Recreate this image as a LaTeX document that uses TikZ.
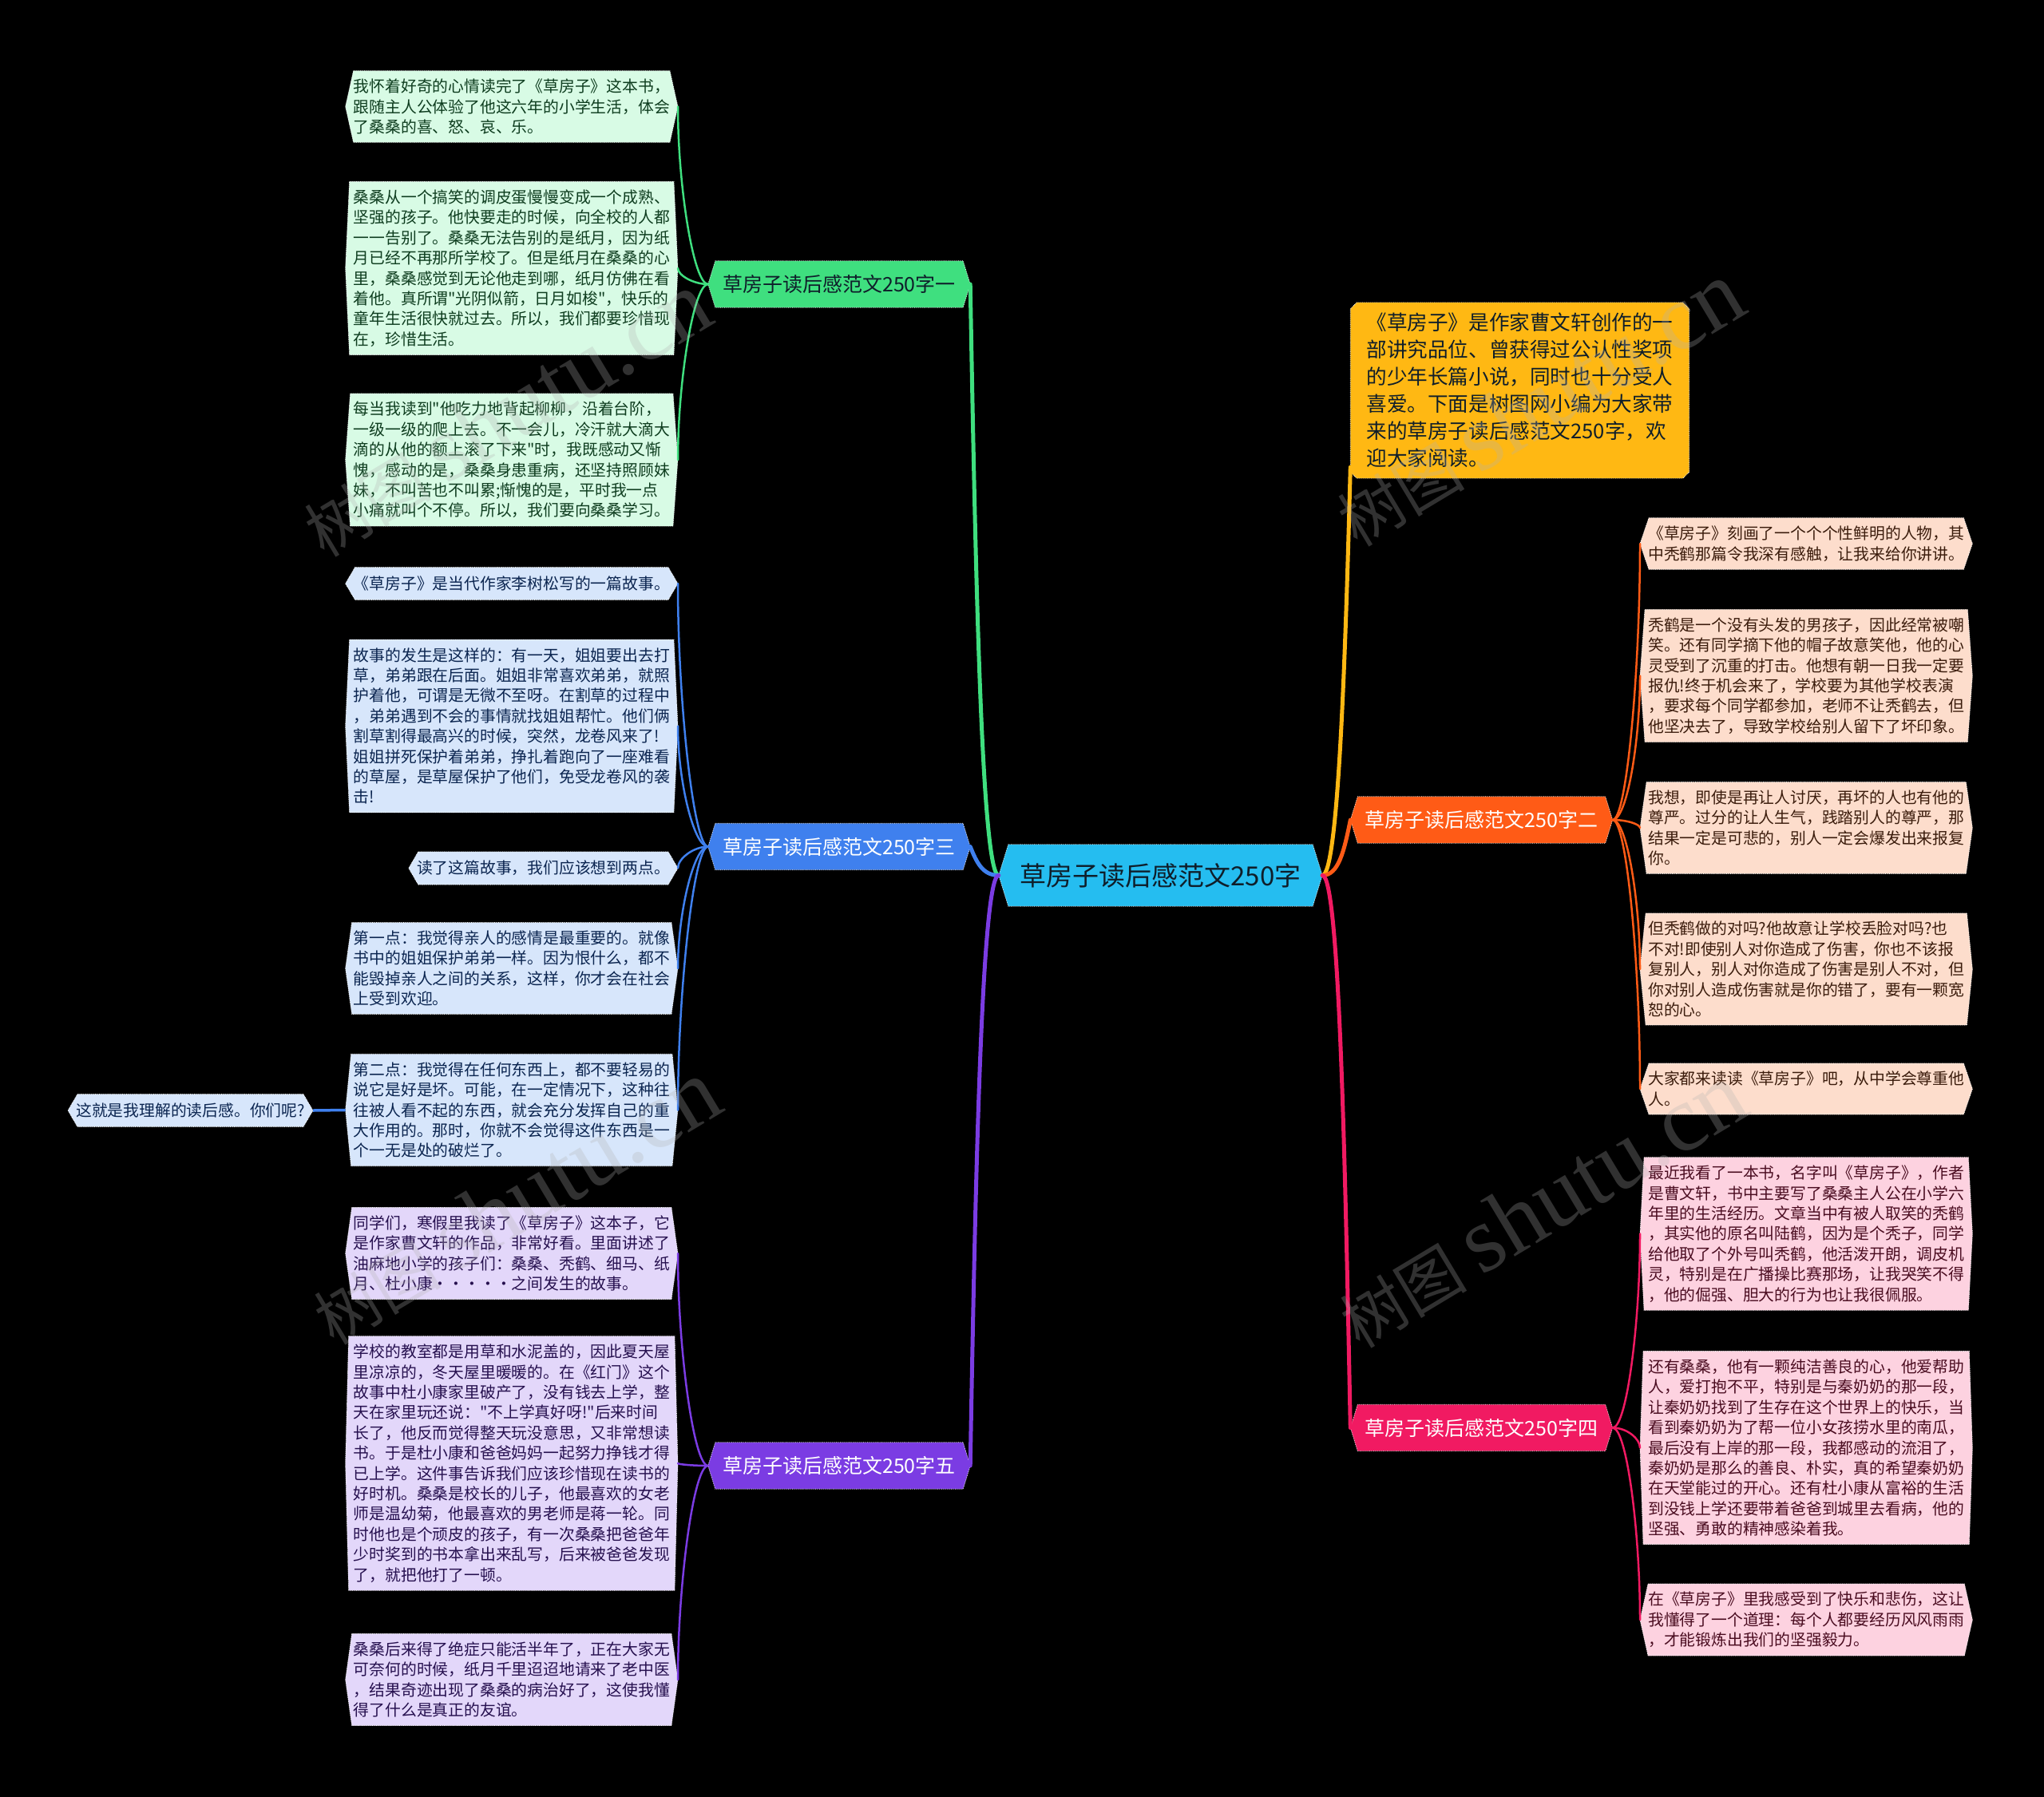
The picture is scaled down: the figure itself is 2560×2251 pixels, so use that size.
\documentclass[tikz,border=0pt]{standalone}
\usepackage{fontspec}
\setmainfont{Noto Sans CJK SC}[Ligatures=TeXOff]
\newfontfamily\wmserif{Liberation Serif}
\usetikzlibrary{calc}
\pgfdeclarelayer{back}
\pgfdeclarelayer{fills}
\pgfsetlayers{back,fills,main}

\definecolor{cCenter}{HTML}{25BDF0}
\definecolor{cGreen}{HTML}{3FDF7F}
\definecolor{cBlue}{HTML}{3F80EE}
\definecolor{cPurple}{HTML}{7B3CE3}
\definecolor{cYellow}{HTML}{FFB813}
\definecolor{cOrange}{HTML}{FF5B16}
\definecolor{cPink}{HTML}{F11A62}
\definecolor{lGreen}{HTML}{D8FBE5}
\definecolor{lBlue}{HTML}{D7E6FB}
\definecolor{lPurple}{HTML}{E3D7FA}
\definecolor{lOrange}{HTML}{FDDDCC}
\definecolor{lPink}{HTML}{FDD2E0}
\definecolor{tGreen}{HTML}{0E3D1F}
\definecolor{tBlue}{HTML}{0B2550}
\definecolor{tPurple}{HTML}{26104F}
\definecolor{tOrange}{HTML}{3B1C0C}
\definecolor{tPink}{HTML}{4A0C20}
\definecolor{tDark}{HTML}{0F1E2A}

\newcommand\hexfill[3][10pt]{%
  \begin{pgfonlayer}{fills}
  \filldraw[fill=#3, draw=white, densely dotted, line width=0.7pt]
    ([xshift=#1]#2.north west) -- ([xshift=-#1]#2.north east) -- (#2.east)
    -- ([xshift=-#1]#2.south east) -- ([xshift=#1]#2.south west) -- (#2.west) -- cycle;
  \end{pgfonlayer}}
\newcommand\leftlink[3][]{\draw[#1] (#2.west) .. controls ([xshift=-18pt]#2.west) and ($(#3.east)!0.45!(#3.east |- #2.west)$) .. (#3.east);}
\newcommand\rightlink[3][]{\draw[#1] (#2.east) .. controls ([xshift=18pt]#2.east) and ($(#3.west)!0.45!(#3.west |- #2.east)$) .. (#3.west);}

\tikzset{
  leaf/.style={text width=396pt, align=left, inner xsep=10pt, inner ysep=10pt,
    font=\fontsize{19.8pt}{25.4pt}\selectfont},
  leafone/.style={align=left, inner xsep=10pt, inner ysep=11pt,
    font=\fontsize{19.8pt}{25.4pt}\selectfont},
  topic/.style={minimum width=328pt, minimum height=58pt, inner sep=0pt,
    font=\fontsize{25pt}{29pt}\selectfont},
  linkA/.style={line width=5pt, line cap=round},
  linkB/.style={line width=2.5pt, line cap=round},
  wm/.style={rotate=31, text=gray!60, opacity=0.28, inner sep=0pt}
}

\begin{document}
\begin{tikzpicture}[x=1pt, y=-1pt]
\begin{pgfonlayer}{back}
\fill[black] (0,0) rectangle (2560,2251);
\end{pgfonlayer}
\useasboundingbox (0,0) rectangle (2560,2251);

% center
\node[minimum width=405pt, minimum height=77pt, inner sep=0pt, text=tDark,
  font=\fontsize{33pt}{38pt}\selectfont] (c) at (1453.5,1096.5) {草房子读后感范文250字};
\hexfill[12pt]{c}{cCenter}

% level 1
\node[topic, text=tDark] (g) at (1051,356) {草房子读后感范文250字一};
\hexfill[9pt]{g}{cGreen}
\node[topic, text=white] (b) at (1051,1060.5) {草房子读后感范文250字三};
\hexfill[9pt]{b}{cBlue}
\node[topic, text=white] (p) at (1051,1836) {草房子读后感范文250字五};
\hexfill[9pt]{p}{cPurple}
\node[topic, text=white] (o) at (1855.5,1027) {草房子读后感范文250字二};
\hexfill[9pt]{o}{cOrange}
\node[topic, text=white] (k) at (1855.5,1788.5) {草房子读后感范文250字四};
\hexfill[9pt]{k}{cPink}

% yellow description
\node[text width=384pt, align=left, inner xsep=20pt, inner ysep=13pt, text=tDark,
  font=\fontsize{25.6pt}{34pt}\selectfont] (y) at (1903.5,489) {《草房子》是作家曹文轩创作的一\\部讲究品位、曾获得过公认性奖项\\的少年长篇小说，同时也十分受人\\喜爱。下面是树图网小编为大家带\\来的草房子读后感范文250字，欢\\迎大家阅读。};
\begin{pgfonlayer}{fills}
\filldraw[fill=cYellow, draw=white, densely dotted, line width=0.7pt]
  ([xshift=8pt]y.north west) -- ([xshift=-8pt]y.north east) -- ([yshift=-8pt]y.north east)
  -- ([yshift=8pt]y.south east) -- ([xshift=-8pt]y.south east) -- ([xshift=8pt]y.south west)
  -- ([yshift=8pt]y.south west) -- ([yshift=-8pt]y.north west) -- cycle;
\end{pgfonlayer}
\coordinate (ya) at ([yshift=14pt]y.south west);

% green children
\node[leaf, anchor=east, text=tGreen] (g1) at (849,133.5) {我怀着好奇的心情读完了《草房子》这本书，\\跟随主人公体验了他这六年的小学生活，体会\\了桑桑的喜、怒、哀、乐。};
\hexfill{g1}{lGreen}
\node[leaf, anchor=east, text=tGreen] (g2) at (849,336) {桑桑从一个搞笑的调皮蛋慢慢变成一个成熟、\\坚强的孩子。他快要走的时候，向全校的人都\\一一告别了。桑桑无法告别的是纸月，因为纸\\月已经不再那所学校了。但是纸月在桑桑的心\\里，桑桑感觉到无论他走到哪，纸月仿佛在看\\着他。真所谓"光阴似箭，日月如梭"，快乐的\\童年生活很快就过去。所以，我们都要珍惜现\\在，珍惜生活。};
\hexfill[5pt]{g2}{lGreen}
\node[leaf, anchor=east, text=tGreen] (g3) at (849,576) {每当我读到"他吃力地背起柳柳，沿着台阶，\\一级一级的爬上去。不一会儿，冷汗就大滴大\\滴的从他的额上滚了下来"时，我既感动又惭\\愧，感动的是，桑桑身患重病，还坚持照顾妹\\妹，不叫苦也不叫累;惭愧的是，平时我一点\\小痛就叫个不停。所以，我们要向桑桑学习。};
\hexfill[6pt]{g3}{lGreen}

% blue children
\node[leafone, anchor=east, text=tBlue] (b1) at (849,731) {《草房子》是当代作家李树松写的一篇故事。};
\hexfill[12pt]{b1}{lBlue}
\node[leaf, anchor=east, text=tBlue] (b2) at (849,909.5) {故事的发生是这样的：有一天，姐姐要出去打\\草，弟弟跟在后面。姐姐非常喜欢弟弟，就照\\护着他，可谓是无微不至呀。在割草的过程中\\，弟弟遇到不会的事情就找姐姐帮忙。他们俩\\割草割得最高兴的时候，突然，龙卷风来了!\\姐姐拼死保护着弟弟，挣扎着跑向了一座难看\\的草屋，是草屋保护了他们，免受龙卷风的袭\\击!};
\hexfill[5pt]{b2}{lBlue}
\node[leafone, anchor=east, text=tBlue] (b3) at (849,1087.5) {读了这篇故事，我们应该想到两点。};
\hexfill[12pt]{b3}{lBlue}
\node[leaf, anchor=east, text=tBlue] (b4) at (849,1213) {第一点：我觉得亲人的感情是最重要的。就像\\书中的姐姐保护弟弟一样。因为恨什么，都不\\能毁掉亲人之间的关系，这样，你才会在社会\\上受到欢迎。};
\hexfill[8pt]{b4}{lBlue}
\node[leaf, anchor=east, text=tBlue] (b5) at (849,1390.5) {第二点：我觉得在任何东西上，都不要轻易的\\说它是好是坏。可能，在一定情况下，这种往\\往被人看不起的东西，就会充分发挥自己的重\\大作用的。那时，你就不会觉得这件东西是一\\个一无是处的破烂了。};
\hexfill[7pt]{b5}{lBlue}
\node[leafone, anchor=east, text=tBlue] (b6) at (392,1391) {这就是我理解的读后感。你们呢?};
\hexfill[12pt]{b6}{lBlue}

% purple children
\node[leaf, anchor=east, text=tPurple] (p1) at (849,1570) {同学们，寒假里我读了《草房子》这本子，它\\是作家曹文轩的作品，非常好看。里面讲述了\\油麻地小学的孩子们：桑桑、秃鹤、细马、纸\\月、杜小康·····之间发生的故事。};
\hexfill[8pt]{p1}{lPurple}
\node[leaf, anchor=east, text=tPurple] (p2) at (849,1833) {学校的教室都是用草和水泥盖的，因此夏天屋\\里凉凉的，冬天屋里暖暖的。在《红门》这个\\故事中杜小康家里破产了，没有钱去上学，整\\天在家里玩还说："不上学真好呀!"后来时间\\长了，他反而觉得整天玩没意思，又非常想读\\书。于是杜小康和爸爸妈妈一起努力挣钱才得\\已上学。这件事告诉我们应该珍惜现在读书的\\好时机。桑桑是校长的儿子，他最喜欢的女老\\师是温幼菊，他最喜欢的男老师是蒋一轮。同\\时他也是个顽皮的孩子，有一次桑桑把爸爸年\\少时奖到的书本拿出来乱写，后来被爸爸发现\\了，就把他打了一顿。};
\hexfill[4pt]{p2}{lPurple}
\node[leaf, anchor=east, text=tPurple] (p3) at (849,2104) {桑桑后来得了绝症只能活半年了，正在大家无\\可奈何的时候，纸月千里迢迢地请来了老中医\\，结果奇迹出现了桑桑的病治好了，这使我懂\\得了什么是真正的友谊。};
\hexfill[8pt]{p3}{lPurple}

% orange children
\node[leaf, anchor=west, text=tOrange] (o1) at (2054,681) {《草房子》刻画了一个个个性鲜明的人物，其\\中秃鹤那篇令我深有感触，让我来给你讲讲。};
\hexfill[11pt]{o1}{lOrange}
\node[leaf, anchor=west, text=tOrange] (o2) at (2054,846.5) {秃鹤是一个没有头发的男孩子，因此经常被嘲\\笑。还有同学摘下他的帽子故意笑他，他的心\\灵受到了沉重的打击。他想有朝一日我一定要\\报仇!终于机会来了，学校要为其他学校表演\\，要求每个同学都参加，老师不让秃鹤去，但\\他坚决去了，导致学校给别人留下了坏印象。};
\hexfill[6pt]{o2}{lOrange}
\node[leaf, anchor=west, text=tOrange] (o3) at (2054,1037) {我想，即使是再让人讨厌，再坏的人也有他的\\尊严。过分的让人生气，践踏别人的尊严，那\\结果一定是可悲的，别人一定会爆发出来报复\\你。};
\hexfill[8pt]{o3}{lOrange}
\node[leaf, anchor=west, text=tOrange] (o4) at (2054,1214) {但秃鹤做的对吗?他故意让学校丢脸对吗?也\\不对!即使别人对你造成了伤害，你也不该报\\复别人，别人对你造成了伤害是别人不对，但\\你对别人造成伤害就是你的错了，要有一颗宽\\恕的心。};
\hexfill[7pt]{o4}{lOrange}
\node[leaf, anchor=west, text=tOrange] (o5) at (2054,1364) {大家都来读读《草房子》吧，从中学会尊重他\\人。};
\hexfill[11pt]{o5}{lOrange}

% pink children
\node[leaf, anchor=west, text=tPink] (k1) at (2054,1545.5) {最近我看了一本书，名字叫《草房子》，作者\\是曹文轩，书中主要写了桑桑主人公在小学六\\年里的生活经历。文章当中有被人取笑的秃鹤\\，其实他的原名叫陆鹤，因为是个秃子，同学\\给他取了个外号叫秃鹤，他活泼开朗，调皮机\\灵，特别是在广播操比赛那场，让我哭笑不得\\，他的倔强、胆大的行为也让我很佩服。};
\hexfill[5pt]{k1}{lPink}
\node[leaf, anchor=west, text=tPink] (k2) at (2054,1813.5) {还有桑桑，他有一颗纯洁善良的心，他爱帮助\\人，爱打抱不平，特别是与秦奶奶的那一段，\\让秦奶奶找到了生存在这个世界上的快乐，当\\看到秦奶奶为了帮一位小女孩捞水里的南瓜，\\最后没有上岸的那一段，我都感动的流泪了，\\秦奶奶是那么的善良、朴实，真的希望秦奶奶\\在天堂能过的开心。还有杜小康从富裕的生活\\到没钱上学还要带着爸爸到城里去看病，他的\\坚强、勇敢的精神感染着我。};
\hexfill[4pt]{k2}{lPink}
\node[leaf, anchor=west, text=tPink] (k3) at (2054,2029) {在《草房子》里我感受到了快乐和悲伤，这让\\我懂得了一个道理：每个人都要经历风风雨雨\\，才能锻炼出我们的坚强毅力。};
\hexfill[10pt]{k3}{lPink}

% level-1 connectors
\draw[linkA, cGreen] (c.west) .. controls +(-22,0) and +(6,330) .. (g.east);
\draw[linkA, cBlue] (c.west) .. controls +(-20,0) and +(8,20) .. (b.east);
\draw[linkA, cPurple] (c.west) .. controls +(-22,0) and +(6,-330) .. (p.east);
\draw[linkA, cYellow] (c.east) .. controls +(20,0) and +(-6,230) .. (ya);
\draw[linkA, cOrange] (c.east) .. controls +(20,0) and +(-8,40) .. (o.west);
\draw[linkA, cPink] (c.east) .. controls +(22,0) and +(-6,-300) .. (k.west);

% level-2 connectors
\leftlink[linkB, cGreen]{g}{g1}
\leftlink[linkB, cGreen]{g}{g2}
\leftlink[linkB, cGreen]{g}{g3}
\leftlink[linkB, cBlue]{b}{b1}
\leftlink[linkB, cBlue]{b}{b2}
\leftlink[linkB, cBlue]{b}{b3}
\leftlink[linkB, cBlue]{b}{b4}
\leftlink[linkB, cBlue]{b}{b5}
\draw[line width=3.5pt, cBlue] (b5.west) -- (b6.east);
\leftlink[linkB, cPurple]{p}{p1}
\leftlink[linkB, cPurple]{p}{p2}
\leftlink[linkB, cPurple]{p}{p3}
\rightlink[linkB, cOrange]{o}{o1}
\rightlink[linkB, cOrange]{o}{o2}
\rightlink[linkB, cOrange]{o}{o3}
\rightlink[linkB, cOrange]{o}{o4}
\rightlink[linkB, cOrange]{o}{o5}
\rightlink[linkB, cPink]{k}{k1}
\rightlink[linkB, cPink]{k}{k2}
\rightlink[linkB, cPink]{k}{k3}

% watermarks
\node[wm] (w1) at (633,519) {\fontsize{80pt}{90pt}\selectfont 树图 {\wmserif\fontsize{118pt}{120pt}\selectfont shutu.cn}};
\node[wm] (w2) at (1927,506) {\fontsize{80pt}{90pt}\selectfont 树图 {\wmserif\fontsize{118pt}{120pt}\selectfont shutu.cn}};
\node[wm] (w3) at (645,1506) {\fontsize{80pt}{90pt}\selectfont 树图 {\wmserif\fontsize{118pt}{120pt}\selectfont shutu.cn}};
\node[wm] (w4) at (1930,1510) {\fontsize{80pt}{90pt}\selectfont 树图 {\wmserif\fontsize{118pt}{120pt}\selectfont shutu.cn}};
\end{tikzpicture}
\end{document}
